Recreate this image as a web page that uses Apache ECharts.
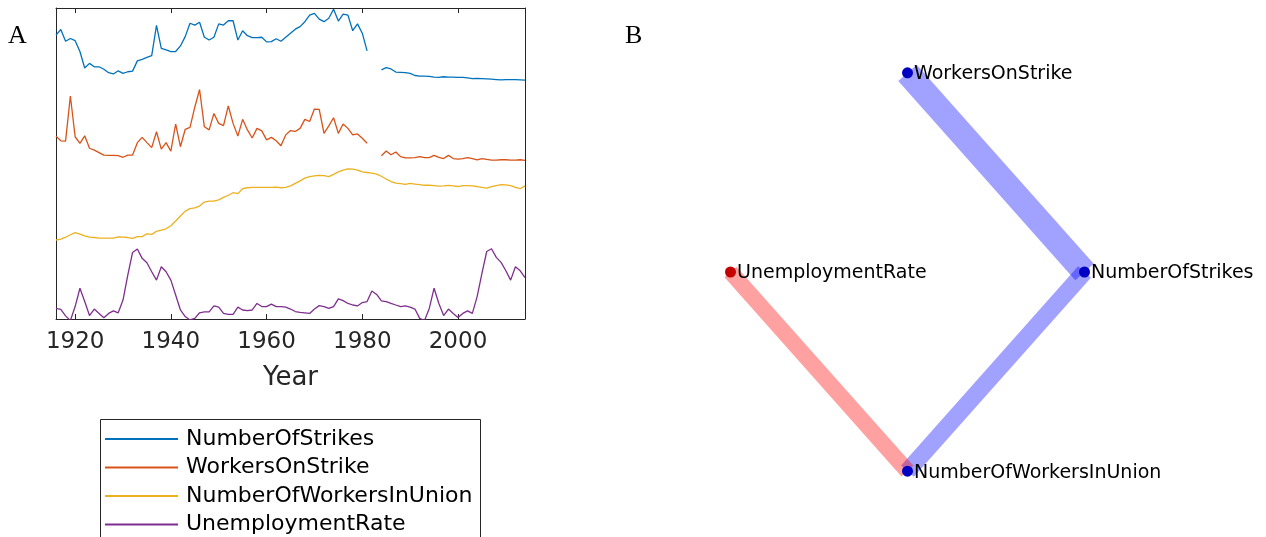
<!DOCTYPE html>
<html>
<head>
<meta charset="utf-8">
<script src="https://cdn.jsdelivr.net/npm/echarts@6/dist/echarts.min.js"></script>
<style>
  html, body { margin: 0; padding: 0; background: #fff; }
  #chart { width: 1266px; height: 537px; }
</style>
</head>
<body>
<div id="chart"></div>
<script>
// ---- Panel A: normalised yearly series (gap in 1982-1983 for strike data) ----
const years = [];
for (let y = 1916; y <= 2014; y++) years.push(y);
const yearTicks = [1920, 1940, 1960, 1980, 2000];

const numberOfStrikes = [
  91.3, 93.1, 89.3, 90.2, 89.5, 86.0, 80.7, 82.2, 81.1, 81.1,
  80.3, 79.2, 78.8, 79.8, 79.0, 79.5, 79.7, 83.0, 83.5, 84.1,
  84.7, 94.4, 87.0, 86.5, 86.0, 86.0, 87.8, 90.8, 95.1, 94.5,
  95.4, 90.6, 89.7, 90.6, 94.9, 94.5, 95.9, 95.9, 89.7, 92.7,
  91.1, 90.5, 90.5, 90.6, 89.1, 89.2, 90.1, 89.3, 90.6, 91.9,
  93.2, 94.0, 95.6, 97.7, 98.3, 96.4, 95.6, 96.7, 99.6, 95.8,
  98.0, 97.7, 92.7, 94.9, 91.9, 86.2, null, null, 80.1, 80.8,
  80.4, 79.4, 79.3, 79.2, 79.0, 78.3, 78.1, 78.1, 78.0, 77.8,
  77.7, 77.9, 77.8, 77.8, 77.7, 77.7, 77.5, 77.3, 77.4, 77.3,
  77.2, 77.1, 77.0, 76.9, 77.0, 77.0, 77.0, 76.9, 76.8
];

const workersOnStrike = [
  58.8, 57.3, 57.2, 71.7, 58.6, 56.5, 58.9, 54.9, 54.3, 53.5,
  52.7, 52.6, 52.6, 52.5, 52.0, 52.7, 52.7, 56.7, 58.4, 56.7,
  55.1, 60.2, 54.6, 56.7, 54.0, 62.7, 55.4, 61.0, 61.6, 68.1,
  73.8, 61.8, 60.8, 66.1, 62.9, 62.2, 68.5, 62.9, 58.8, 64.2,
  60.8, 58.2, 61.3, 60.5, 57.6, 58.4, 57.3, 55.7, 59.2, 60.6,
  60.3, 61.3, 64.2, 63.5, 67.5, 67.4, 59.7, 62.1, 64.7, 59.7,
  62.7, 61.3, 59.2, 59.5, 58.1, 56.5, null, null, 52.5, 54.0,
  52.8, 53.7, 52.2, 51.8, 51.8, 51.9, 52.2, 51.9, 51.9, 52.6,
  52.0, 51.6, 52.6, 51.6, 51.4, 51.6, 51.9, 51.6, 51.2, 51.6,
  51.3, 51.1, 51.1, 51.2, 51.2, 51.1, 51.1, 51.2, 51.0
];

const numberOfWorkersInUnion = [
  25.4, 25.7, 26.3, 27.1, 27.8, 27.3, 26.7, 26.3, 26.2, 26.0,
  26.0, 26.0, 26.0, 26.4, 26.3, 26.2, 25.9, 26.5, 26.5, 27.4,
  27.2, 28.2, 28.6, 29.0, 30.0, 31.5, 33.1, 34.7, 35.5, 35.7,
  36.3, 37.6, 37.9, 37.9, 38.3, 39.1, 39.8, 40.6, 40.3, 41.9,
  42.2, 42.3, 42.3, 42.3, 42.3, 42.3, 42.4, 42.2, 42.3, 42.8,
  43.6, 44.4, 45.3, 45.8, 46.0, 46.2, 46.1, 45.8, 46.5, 47.3,
  47.9, 48.3, 48.2, 47.9, 47.3, 47.1, 46.9, 46.6, 45.9, 45.0,
  44.2, 43.7, 43.5, 43.3, 43.6, 43.4, 43.2, 43.0, 43.0, 42.9,
  42.7, 42.8, 43.0, 42.8, 42.6, 42.9, 42.9, 42.8, 42.6, 42.3,
  42.1, 42.6, 42.9, 43.2, 43.1, 42.9, 42.3, 41.9, 42.8
];

const unemploymentRate = [
  3.4, 3.1, 1.0, -0.5, 4.0, 9.9, 5.6, 1.1, 3.2, 1.8,
  0.4, 1.8, 2.6, 2.0, 6.1, 14.1, 21.4, 22.5, 19.5, 18.1,
  15.2, 12.5, 16.8, 15.2, 12.5, 7.7, 2.9, 0.8, -0.3, 0.2,
  2.0, 2.3, 2.3, 4.2, 3.8, 1.8, 1.5, 1.5, 3.8, 2.9,
  2.7, 2.9, 5.0, 4.0, 4.0, 4.8, 4.0, 4.0, 3.8, 3.2,
  2.4, 2.1, 2.0, 1.8, 3.2, 4.3, 4.0, 3.4, 4.0, 6.5,
  5.9, 5.0, 4.5, 4.2, 5.3, 5.6, 9.0, 7.9, 5.8, 5.6,
  5.0, 4.5, 4.0, 4.2, 3.8, 3.2, 0.2, -0.5, 3.4, 9.9,
  5.0, 1.1, 3.2, 1.8, 0.5, 1.8, 2.6, 1.8, 7.2, 14.7,
  21.7, 22.6, 19.8, 18.2, 15.5, 12.5, 16.8, 15.5, 13.3
];

const seriesNames = ['NumberOfStrikes', 'WorkersOnStrike', 'NumberOfWorkersInUnion', 'UnemploymentRate'];
const seriesColors = ['#0072BD', '#D95319', '#EDB120', '#7E2F8E'];
const seriesValues = [numberOfStrikes, workersOnStrike, numberOfWorkersInUnion, unemploymentRate];

// ---- Panel B: dependency graph between the four variables ----
const nodeNames = ['WorkersOnStrike', 'NumberOfStrikes', 'UnemploymentRate', 'NumberOfWorkersInUnion'];
const nodeX = [0, 1, -1, 0];
const nodeY = [1, 0, 0, -1];
const nodeSign = [1, 1, -1, 1];
const edgeSources = [0, 1, 2];
const edgeTargets = [1, 3, 3];
const edgeWeights = [0.95, 0.66, -0.62];

const FONT = 'DejaVu Sans';
const AXIS = '#262626';

const chart = echarts.init(document.getElementById('chart'), null, { renderer: 'canvas' });

const lineSeries = seriesNames.map((name, i) => ({
  name: name,
  type: 'line',
  xAxisIndex: 0,
  yAxisIndex: 0,
  data: years.map((yr, k) => [yr, seriesValues[i][k]]),
  showSymbol: false,
  symbol: 'none',
  connectNulls: false,
  clip: true,
  color: seriesColors[i],
  itemStyle: { color: seriesColors[i] },
  lineStyle: { width: 1.3, color: seriesColors[i] },
  emphasis: { disabled: true },
  animation: false
}));

// graph nodes are keyed by id so that their labels do not collide with legend entries
const graphSeries = {
  type: 'graph',
  name: 'dependencies',
  layout: 'none',
  coordinateSystem: 'cartesian2d',
  xAxisIndex: 2,
  yAxisIndex: 2,
  symbol: 'circle',
  symbolSize: 11,
  animation: false,
  legendHoverLink: false,
  emphasis: { disabled: true },
  data: nodeNames.map((n, i) => ({
    id: 'v' + i,
    name: 'v' + i,
    value: [nodeX[i], nodeY[i]],
    itemStyle: { color: nodeSign[i] > 0 ? '#0000c4' : '#c40000' }
  })),
  links: edgeSources.map((s, i) => ({
    source: 'v' + s,
    target: 'v' + edgeTargets[i],
    lineStyle: {
      width: Math.abs(edgeWeights[i]) * 26,
      color: edgeWeights[i] > 0 ? 'rgba(0,0,255,0.37)' : 'rgba(255,0,0,0.37)',
      opacity: 1,
      cap: 'butt',
      curveness: 0
    }
  })),
  label: {
    show: true,
    position: 'right',
    distance: 1,
    offset: [0, 1.5],
    fontFamily: FONT,
    fontSize: 19,
    color: '#000',
    formatter: (p) => nodeNames[p.dataIndex]
  }
};

const option = {
  backgroundColor: '#fff',
  animation: false,
  textStyle: { fontFamily: FONT },
  title: [
    { text: 'A', left: 8, top: 23, padding: 0,
      textStyle: { fontFamily: 'Liberation Serif', fontSize: 26, fontWeight: 'normal', color: '#000' } },
    { text: 'B', left: 625, top: 23, padding: 0,
      textStyle: { fontFamily: 'Liberation Serif', fontSize: 26, fontWeight: 'normal', color: '#000' } }
  ],
  graphic: [
    { type: 'rect', z: -1, silent: true,
      shape: { x: 100.5, y: 419.5, width: 380, height: 140 },
      style: { fill: '#fff', stroke: AXIS, lineWidth: 1 } }
  ],
  legend: {
    data: seriesNames.map((n, i) => ({ name: n, icon: 'rect', itemStyle: { color: seriesColors[i], borderWidth: 0 } })),
    orient: 'vertical',
    left: 105,
    top: 428,
    padding: 0,
    icon: 'rect',
    itemWidth: 73,
    itemHeight: 2,
    itemGap: 6.5,
    selectedMode: false,
    itemStyle: { borderWidth: 0 },
    lineStyle: { width: 0 },
    textStyle: { fontFamily: FONT, fontSize: 22, lineHeight: 22, color: '#000', padding: [0, 0, 0, 3] }
  },
  grid: [
    { left: 56, top: 8, width: 469, height: 311 },
    { left: 642, top: 33, width: 531, height: 478 }
  ],
  xAxis: [
    {
      type: 'value', gridIndex: 0, position: 'bottom', min: 1916, max: 2014,
      name: 'Year', nameLocation: 'middle', nameGap: 46,
      nameTextStyle: { fontFamily: FONT, fontSize: 26, color: AXIS },
      axisLine: { show: true, onZero: false, lineStyle: { color: AXIS, width: 1 } },
      axisTick: { show: true, inside: true, length: 5, customValues: yearTicks, lineStyle: { color: AXIS } },
      axisLabel: { show: true, customValues: yearTicks, margin: 12, fontFamily: FONT, fontSize: 23, color: AXIS,
                   formatter: (v) => String(v) },
      splitLine: { show: false }
    },
    {
      type: 'value', gridIndex: 0, position: 'top', min: 1916, max: 2014,
      axisLine: { show: true, onZero: false, lineStyle: { color: AXIS, width: 1 } },
      axisTick: { show: true, inside: true, length: 5, customValues: yearTicks, lineStyle: { color: AXIS } },
      axisLabel: { show: false },
      splitLine: { show: false }
    },
    {
      type: 'value', gridIndex: 1, min: -1.5, max: 1.5, show: false
    }
  ],
  yAxis: [
    {
      type: 'value', gridIndex: 0, position: 'left', min: 0, max: 100,
      axisLine: { show: true, onZero: false, lineStyle: { color: AXIS, width: 1 } },
      axisTick: { show: false }, axisLabel: { show: false }, splitLine: { show: false }
    },
    {
      type: 'value', gridIndex: 0, position: 'right', min: 0, max: 100,
      axisLine: { show: true, onZero: false, lineStyle: { color: AXIS, width: 1 } },
      axisTick: { show: false }, axisLabel: { show: false }, splitLine: { show: false }
    },
    {
      type: 'value', gridIndex: 1, min: -1.2, max: 1.2, show: false
    }
  ],
  series: lineSeries.concat([graphSeries])
};

chart.setOption(option);
</script>
</body>
</html>
